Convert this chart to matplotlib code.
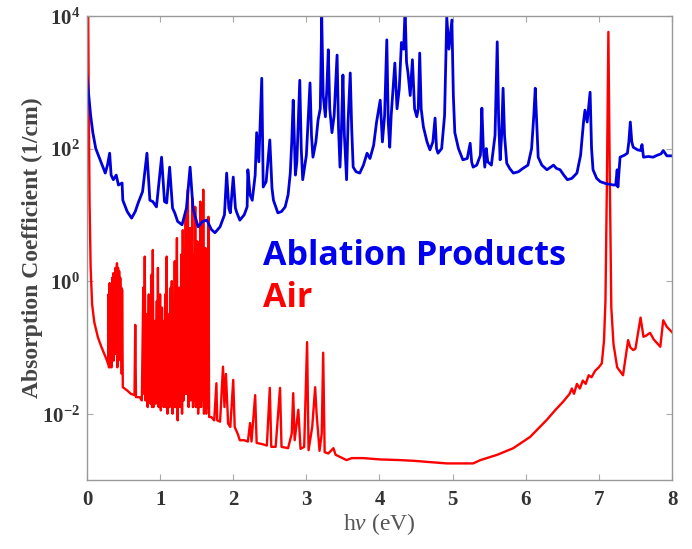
import numpy as np
import matplotlib
matplotlib.use("Agg")
import matplotlib.pyplot as plt

# Absorption spectra; values stored as log10(1/cm)
blue_x = [0.0, 0.02, 0.05, 0.08, 0.12, 0.18, 0.25, 0.28, 0.31, 0.33, 0.36, 0.40, 0.43, 0.48, 0.49,
          0.55, 0.61, 0.66, 0.70, 0.76, 0.82, 0.86, 0.90, 0.95, 1.02, 1.06, 1.09, 1.13, 1.17, 1.20,
          1.24, 1.30, 1.36, 1.41, 1.45, 1.48, 1.52, 1.58, 1.64, 1.70, 1.75, 1.82, 1.88, 1.91, 1.94,
          1.96, 2.00, 2.03, 2.05, 2.09, 2.15, 2.19, 2.20, 2.23, 2.26, 2.30, 2.32, 2.35, 2.39, 2.41,
          2.45, 2.50, 2.53, 2.55, 2.61, 2.66, 2.71, 2.75, 2.78, 2.80, 2.82, 2.85, 2.87, 2.91, 2.93,
          2.95, 3.00, 3.05, 3.07, 3.09, 3.13, 3.16, 3.19, 3.21, 3.23, 3.26, 3.28, 3.30, 3.32, 3.35,
          3.38, 3.42, 3.44, 3.46, 3.48, 3.50, 3.52, 3.55, 3.57, 3.60, 3.62, 3.64, 3.68, 3.73, 3.78,
          3.83, 3.87, 3.92, 3.96, 4.01, 4.04, 4.07, 4.10, 4.12, 4.14, 4.16, 4.21, 4.24, 4.27, 4.30,
          4.33, 4.35, 4.37, 4.39, 4.42, 4.45, 4.48, 4.51, 4.53, 4.55, 4.57, 4.60, 4.65, 4.69, 4.73,
          4.76, 4.78, 4.80, 4.85, 4.89, 4.92, 4.95, 4.99, 5.01, 5.03, 5.08, 5.14, 5.20, 5.24, 5.26,
          5.28, 5.33, 5.38, 5.40, 5.42, 5.44, 5.46, 5.48, 5.53, 5.58, 5.61, 5.63, 5.65, 5.67, 5.69,
          5.71, 5.74, 5.78, 5.83, 5.90, 5.96, 6.03, 6.08, 6.11, 6.13, 6.15, 6.17, 6.22, 6.29, 6.34,
          6.38, 6.42, 6.47, 6.52, 6.57, 6.63, 6.70, 6.75, 6.79, 6.81, 6.84, 6.88, 6.90, 6.92, 6.97,
          7.02, 7.10, 7.20, 7.23, 7.25, 7.26, 7.29, 7.35, 7.39, 7.41, 7.43, 7.45, 7.47, 7.53, 7.57,
          7.59, 7.61, 7.68, 7.74, 7.80, 7.85, 7.88, 7.93, 8.0]
blue_log = [3.1, 2.85, 2.5, 2.24, 2.0, 1.83, 1.63, 1.75, 1.93, 1.6, 1.53, 1.6, 1.45, 1.48, 1.22,
            1.05, 0.95, 1.05, 1.18, 1.35, 1.93, 1.22, 1.2, 1.12, 1.87, 1.2, 1.18, 1.72, 1.1, 1.03,
            0.9, 0.85, 1.1, 1.72, 1.1, 0.97, 0.82, 0.9, 0.92, 0.78, 0.73, 0.82, 1.0, 1.63, 1.1,
            1.03, 1.57, 1.1, 1.03, 0.92, 1.0, 1.12, 1.68, 1.3, 1.22, 1.6, 2.24, 1.8, 3.06, 1.42,
            1.5, 2.13, 1.4, 1.22, 1.03, 1.05, 1.12, 1.3, 1.63, 2.1, 2.73, 1.6, 1.8, 3.03, 2.0,
            1.53, 1.9, 2.99, 2.2, 1.87, 2.1, 2.43, 2.6, 3.98, 2.8, 2.48, 2.9, 3.49, 2.6, 2.24,
            2.5, 3.41, 2.3, 1.72, 2.3, 3.11, 2.2, 1.53, 2.4, 3.14, 2.3, 1.72, 1.65, 1.63, 1.75,
            1.93, 1.85, 2.05, 2.4, 2.73, 2.1, 2.5, 3.64, 2.4, 2.02, 2.5, 3.29, 2.6, 2.9, 3.6,
            3.5, 4.1, 3.3, 3.14, 2.8, 3.34, 2.6, 2.48, 2.6, 3.44, 2.6, 2.33, 2.1, 1.98, 2.1,
            2.46, 2.0, 1.93, 2.0, 2.5, 3.98, 3.5, 3.94, 2.8, 2.24, 2.0, 1.83, 1.85, 2.08, 1.8,
            1.72, 1.75, 1.9, 2.61, 2.0, 1.72, 2.0, 1.8, 1.75, 2.2, 3.61, 2.4, 1.83, 2.2, 2.91,
            2.2, 1.78, 1.7, 1.63, 1.65, 1.70, 1.75, 2.0, 2.5, 2.91, 2.4, 1.87, 1.75, 1.68, 1.72,
            1.75, 1.70, 1.68, 1.6, 1.53, 1.55, 1.63, 1.9, 2.4, 2.58, 2.4, 2.85, 2.0, 1.68, 1.55,
            1.50, 1.47, 1.45, 1.45, 1.68, 1.42, 1.87, 1.9, 1.93, 2.1, 2.40, 2.1, 2.02, 1.98, 1.97,
            2.06, 1.87, 1.88, 1.87, 1.9, 1.92, 1.97, 1.89, 1.89]

red_x = [0.015, 0.025, 0.035, 0.05, 0.07, 0.10, 0.15, 0.20, 0.27,
         0.29, 0.295, 0.30, 0.31, 0.315, 0.32, 0.325, 0.33, 0.335, 0.345, 0.35, 0.36, 0.365,
         0.375, 0.38, 0.39, 0.395, 0.40, 0.405, 0.41, 0.415, 0.425, 0.43, 0.44, 0.445, 0.455,
         0.46, 0.47, 0.475, 0.48, 0.49,
         0.55, 0.60, 0.65, 0.66, 0.67, 0.72, 0.75, 0.77, 0.78, 0.79, 0.80, 0.82, 0.83, 0.845,
         0.85, 0.86, 0.87, 0.885, 0.89, 0.90, 0.91, 0.93, 0.94, 0.955, 0.96, 0.97, 0.98, 1.00,
         1.01, 1.025, 1.03, 1.04, 1.05, 1.07, 1.08, 1.09, 1.10, 1.12, 1.13, 1.145, 1.15, 1.16,
         1.17, 1.185, 1.19, 1.20, 1.21, 1.23, 1.24, 1.26, 1.27, 1.29, 1.30, 1.31, 1.32, 1.335,
         1.34, 1.35, 1.36, 1.38, 1.39, 1.41, 1.42, 1.44, 1.45, 1.465, 1.47, 1.48, 1.49, 1.51,
         1.52, 1.535, 1.54, 1.55, 1.56, 1.575, 1.58, 1.59, 1.60, 1.62, 1.63, 1.645, 1.65, 1.66,
         1.67, 1.70,
         1.74, 1.77, 1.78, 1.82, 1.86, 1.88, 1.90, 1.93, 1.96, 2.00, 2.02, 2.06, 2.09, 2.15, 2.20,
         2.23, 2.25, 2.30, 2.32, 2.40, 2.46, 2.50, 2.52, 2.58, 2.64, 2.66, 2.75, 2.80, 2.82, 2.84,
         2.89, 2.92, 2.97, 3.01, 3.03, 3.08, 3.12, 3.14, 3.18, 3.21, 3.23, 3.25, 3.30, 3.37, 3.40,
         3.55, 3.62, 3.78, 4.01, 4.28, 4.46, 4.92, 5.28, 5.38, 5.61, 5.83, 6.06, 6.29, 6.40, 6.51,
         6.60, 6.63, 6.66, 6.70, 6.74, 6.78, 6.82, 6.86, 6.90, 6.95, 7.00, 7.04, 7.07, 7.09, 7.11,
         7.13, 7.15, 7.17, 7.20, 7.25, 7.33, 7.40, 7.43, 7.47, 7.50, 7.57, 7.61, 7.65, 7.70, 7.75,
         7.84, 7.88, 7.93, 8.0]
red_log = [4.3, 2.6, 1.2, 0.2, -0.35, -0.62, -0.85, -1.0, -1.19,
           -1.25, -0.2, -1.3, -0.03, -1.3, -0.1, -1.2, -0.05, -1.3, 0.05, -1.1, 0.12, -1.2,
           0.1, -1.0, 0.2, -1.1, 0.15, -1.0, 0.27, -1.3, 0.2, -1.1, 0.15, -1.0, 0.05,
           -1.2, -0.1, -1.4, -0.13, -1.6,
           -1.65, -1.70, -1.72, -0.66, -1.75, -1.75, -1.8, -0.1, -1.7, 0.37, -1.8, -0.5, -1.9, -0.2,
           -1.8, -0.3, -1.85, 0.1, -1.9, 0.47, -1.9, -0.6, -1.85, -0.3, -1.8, 0.20, -1.9, -0.2,
           -1.95, -0.4, -1.8, -0.6, -1.9, -0.2, -1.9, 0.37, -2.0, -0.5, -1.9, -0.1, -1.8, 0.0,
           -2.0, -0.3, -1.9, 0.3, -1.9, 0.65, -2.1, -0.1, -1.9, 0.4, -2.0, 0.77, -1.8, 0.2,
           -1.7, 1.0, -1.7, 1.38, -1.9, 0.8, -1.8, 1.25, -1.9, 0.4, -1.8, 1.12, -1.9, 0.6,
           -2.0, 0.3, -1.9, 1.2, -1.9, 0.7, -1.8, 1.38, -2.0, 0.5, -2.0, 0.2, -1.9, 0.97,
           -2.05, -2.05,
           -2.1, -1.54, -2.1, -2.12, -1.29, -1.9, -1.4, -2.15, -2.2, -1.49, -2.2, -2.3, -2.4, -2.4, -2.42,
           -2.14, -2.42, -1.72, -2.44, -2.46, -2.48, -1.61, -2.5, -2.5, -1.61, -2.5, -2.52, -2.3, -1.69, -2.4,
           -1.94, -2.53, -2.5, -0.92, -2.55, -2.2, -1.60, -2.0, -2.56, -2.3, -1.08, -2.58, -2.6, -2.52, -2.62,
           -2.70, -2.67, -2.67, -2.69, -2.70, -2.71, -2.75, -2.75, -2.70, -2.62, -2.52, -2.35, -2.09, -1.95, -1.82,
           -1.7, -1.62, -1.70, -1.55, -1.62, -1.5, -1.55, -1.42, -1.45, -1.35, -1.30, -1.24, -0.9, -0.3, 1.5,
           3.76, 1.5, -0.4, -0.95, -1.3, -1.42, -0.89, -1.0, -1.04, -1.02, -0.55, -0.84, -0.82, -0.78, -0.88,
           -0.99, -0.59, -0.69, -0.77]

x_ticks = [0, 1, 2, 3, 4, 5, 6, 7, 8]
y_ticks = [1e-2, 1e0, 1e2, 1e4]
y_tick_labels = [r'$\mathbf{10^{-2}}$', r'$\mathbf{10^{0}}$', r'$\mathbf{10^{2}}$', r'$\mathbf{10^{4}}$']

plt.rcParams['mathtext.fontset'] = 'custom'
plt.rcParams['mathtext.rm'] = 'Liberation Serif'
plt.rcParams['mathtext.it'] = 'Liberation Serif:italic'
plt.rcParams['mathtext.bf'] = 'Liberation Serif:bold'

fig = plt.figure(figsize=(6.92, 5.49), dpi=100)
ax = fig.add_axes([0.1257, 0.1257, 0.8454, 0.8452])

ax.plot(red_x, 10.0 ** np.array(red_log), color='#ff0000', lw=1.7)
ax.plot(blue_x, 10.0 ** np.array(blue_log), color='#0000dd', lw=2.0)

ax.set_yscale('log')
ax.set_xlim(0, 8)
ax.set_ylim(1e-3, 1e4)
ax.set_xticks(x_ticks)
ax.set_xticklabels([str(t) for t in x_ticks])
ax.set_yticks(y_ticks)
ax.set_yticklabels(y_tick_labels)
ax.minorticks_off()
ax.tick_params(direction='in', top=True, right=True, length=4, color='#aaaaaa',
               labelsize=15, labelcolor='#333333')
ax.tick_params(axis='x', pad=7)
ax.tick_params(axis='y', pad=5)
for lab in ax.get_xticklabels():
    lab.set_family('Liberation Serif')
    lab.set_weight('bold')
for s in ax.spines.values():
    s.set_color('#999999')
    s.set_linewidth(1.0)

ax.set_xlabel(r'h$\nu$ (eV)', family='Liberation Serif', fontsize=17, color='#555555', labelpad=1)
ax.set_ylabel('Absorption Coefficient (1/cm)', family='Liberation Serif', fontsize=17,
              weight='bold', color='#444444', labelpad=-1)

ax.text(0.301, 0.463, 'Ablation Products', transform=ax.transAxes, color='#0000ee',
        family='Open Sans', weight='bold', fontsize=24.5)
ax.text(0.301, 0.373, 'Air', transform=ax.transAxes, color='#ff0000',
        family='Open Sans', weight='bold', fontsize=24.5)

fig.savefig('out.png', dpi=100)
